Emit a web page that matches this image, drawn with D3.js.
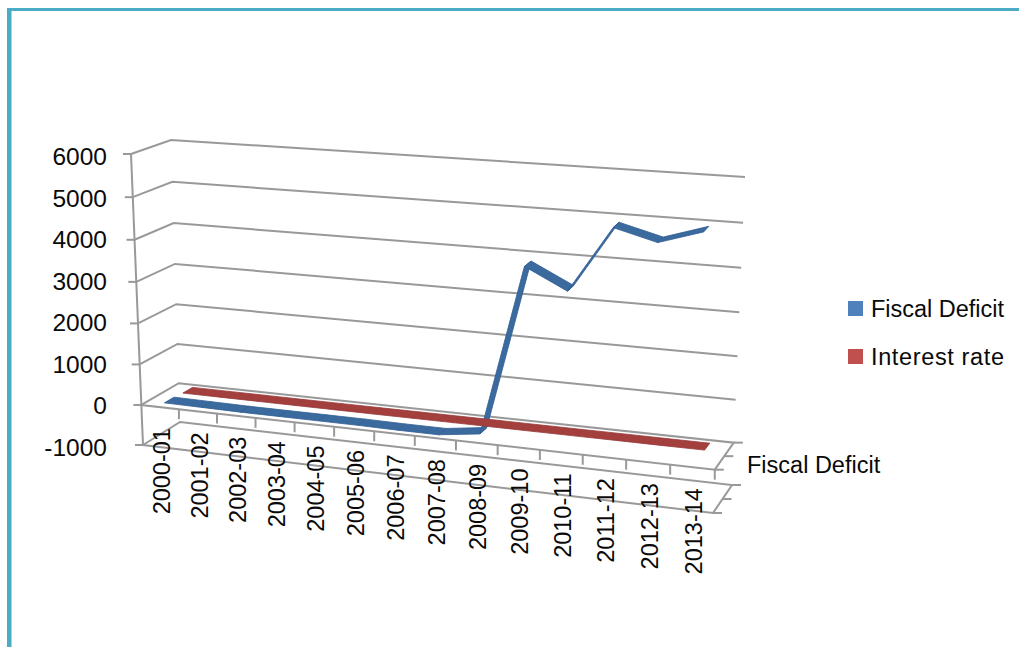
<!DOCTYPE html>
<html>
<head>
<meta charset="utf-8">
<style>
  html, body { margin: 0; padding: 0; background: #fff; }
  svg { display: block; }
  text { font-family: "Liberation Sans", sans-serif; fill: #0a0a0a; }
</style>
<script src="https://cdn.jsdelivr.net/npm/d3@7/dist/d3.min.js"></script>
</head>
<body>
<svg id="chart" width="1019" height="647"></svg>
<script>
const categories = ["2000-01","2001-02","2002-03","2003-04","2004-05","2005-06","2006-07",
                    "2007-08","2008-09","2009-10","2010-11","2011-12","2012-13","2013-14"];
const fiscalDeficit = [40, 30, 20, 20, 20, 20, 10, 10, 140, 4100, 3630, 5120, 4870, 5180];
const interestRate = [10, 9, 8, 7, 7, 7, 8, 9, 9, 8, 8, 9, 8, 9];
const yTicks = [-1000, 0, 1000, 2000, 3000, 4000, 5000, 6000];
const seriesNames = ["Fiscal Deficit", "Interest rate"];
const legendColors = ["#4f81bd", "#c0504d"];
const ribbonColors = ["#3b6a9f", "#a33f3d"];
const ribbonEdges = ["#2f5d92", "#97393a"];

const svg = d3.select("#chart");
const axisColor = "#999999";

// Box corners on screen: [depth 0 = front, depth 1 = back], left and right, bottom and top.
const corners = {
  fl: [[143, 445], [131, 154]],
  fr: [[713, 513], [726, 198]],
  bl: [[180, 422], [171, 140]],
  br: [[732, 485], [745, 177]]
};

const valueFrac = d3.scaleLinear().domain([-1000, 6000]).range([0, 1]);
const bandFrac = d3.scaleLinear().domain([0, categories.length]).range([0, 1]);
// Axis labels sit on an even spacing, unlike the foreshortened axis itself.
const labelY = d3.scaleLinear().domain([-1000, 6000]).range([456, 165]);
// Perspective foreshortening along an axis running from near to far.
const foreshorten = (t, r) => t / (r + (1 - r) * t);

function project(band, value, depth) {
  const u = foreshorten(bandFrac(band), 1.097);
  const v = foreshorten(valueFrac(value), 1.045);
  const edge = c => d3.interpolateArray(c[0], c[1])(v);
  const front = d3.interpolateArray(edge(corners.fl), edge(corners.fr))(u);
  const back = d3.interpolateArray(edge(corners.bl), edge(corners.br))(u);
  return d3.interpolateArray(front, back)(depth);
}

const path = d3.line();
const n = categories.length;
const frame = svg.append("g").attr("fill", "none").attr("stroke", axisColor).attr("stroke-width", 2);

// Back wall gridlines and left wall returns
yTicks.forEach(v => {
  if (v > -1000 && v !== 0) frame.append("path").attr("d", path([project(0, v, 0), project(0, v, 1), project(n, v, 1)]));
});

// The two floors: value 0 and the bottom of the axis
[0, -1000].forEach(v => {
  frame.append("path").attr("d", path([
    project(0, v, 0), project(0, v, 1), project(n, v, 1), project(n, v, 0)
  ]) + "Z");
  // Depth ticks at the right-hand edge
  [0, 0.5, 1].forEach(d => {
    const p = project(n, v, d);
    frame.append("path").attr("d", path([p, [p[0] + 9, p[1]]]));
  });
});

// Vertical axis with outward ticks
frame.append("path").attr("d", path([project(0, 6000, 0), project(0, -1000, 0)]));
yTicks.forEach(v => {
  const p = project(0, v, 0);
  frame.append("path").attr("d", path([[p[0] - 8, p[1]], p]));
  svg.append("text")
    .attr("x", 107).attr("y", labelY(v))
    .attr("text-anchor", "end").attr("font-size", 24.5)
    .text(v);
});

// Category ticks along the front of the value-0 floor
d3.range(1, n + 1).forEach(i => {
  const p = project(i, 0, 0);
  frame.append("path").attr("d", path([p, [p[0], p[1] + 10]]));
});

// Category labels, rotated
categories.forEach((c, i) => {
  const p = project(i + 0.5, 0, 0);
  svg.append("text")
    .attr("transform", `translate(${p[0] + 1.5},${p[1] + 21}) rotate(-90)`)
    .attr("dy", "0.35em")
    .attr("text-anchor", "end").attr("font-size", 23.5)
    .text(c);
});

// 3-D line ribbons: a strip between two depths for each series
[fiscalDeficit, interestRate].forEach((values, s) => {
  const center = (s + 0.5) / 2;
  const half = 0.13;
  const g = svg.append("g")
    .attr("fill", ribbonColors[s])
    .attr("stroke", ribbonEdges[s]).attr("stroke-width", 0.8).attr("stroke-linejoin", "round");
  d3.pairs(values.map((v, i) => [i + 0.5, v])).forEach(([a, b]) => {
    g.append("path").attr("d", path([
      project(a[0], a[1], center - half),
      project(b[0], b[1], center - half),
      project(b[0], b[1], center + half),
      project(a[0], a[1], center + half)
    ]) + "Z");
  });
});

// Series name on the depth axis
svg.append("text").attr("x", 747).attr("y", 473).attr("font-size", 23.5).text(seriesNames[0]);

// Legend
seriesNames.forEach((name, i) => {
  const y = 301 + i * 48;
  svg.append("rect").attr("x", 848).attr("y", y).attr("width", 15).attr("height", 15).attr("fill", legendColors[i]);
  svg.append("text").attr("x", 871).attr("y", y + 16).attr("font-size", 23.5)
    .attr("textLength", 133).text(name);
});

// Frame edges along the top and left of the page
svg.append("rect").attr("x", 7).attr("y", 8).attr("width", 1012).attr("height", 3).attr("fill", "#4bacc6");
svg.append("rect").attr("x", 7).attr("y", 8).attr("width", 4.5).attr("height", 639).attr("fill", "#4bacc6");
</script>
</body>
</html>
